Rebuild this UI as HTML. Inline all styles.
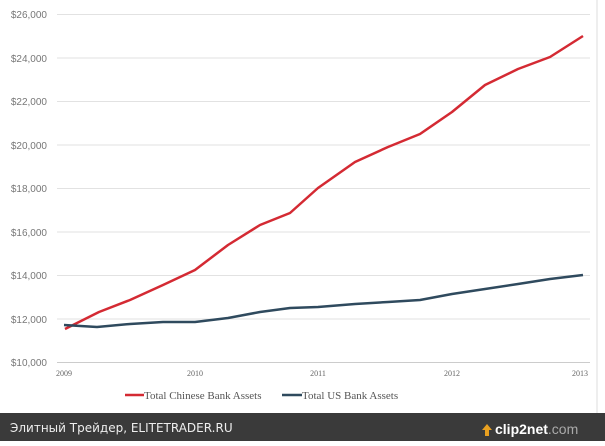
<!DOCTYPE html>
<html><head><meta charset="utf-8"><style>
body{margin:0;width:605px;height:441px;background:#fff;overflow:hidden;font-family:"Liberation Serif",serif}
</style></head><body>
<svg width="605" height="441" viewBox="0 0 605 441" xmlns="http://www.w3.org/2000/svg">
<rect width="605" height="441" fill="#fff"/>
<line x1="597" y1="0" x2="597" y2="413" stroke="#ddd"/>
<g stroke="#e2e2e2" stroke-width="1">
<line x1="57" y1="14.5" x2="590" y2="14.5"/><line x1="57" y1="58" x2="590" y2="58"/>
<line x1="57" y1="101.5" x2="590" y2="101.5"/><line x1="57" y1="145" x2="590" y2="145"/>
<line x1="57" y1="188.5" x2="590" y2="188.5"/><line x1="57" y1="232" x2="590" y2="232"/>
<line x1="57" y1="275.5" x2="590" y2="275.5"/><line x1="57" y1="319" x2="590" y2="319"/>
<line x1="57" y1="362.5" x2="590" y2="362.5" stroke="#ccc"/>
</g>
<g font-family="Liberation Sans, sans-serif" font-size="10" fill="#777" text-anchor="end">
<text x="47" y="18">$26,000</text><text x="47" y="62">$24,000</text><text x="47" y="105">$22,000</text>
<text x="47" y="149">$20,000</text><text x="47" y="192">$18,000</text><text x="47" y="236">$16,000</text>
<text x="47" y="279">$14,000</text><text x="47" y="323">$12,000</text><text x="47" y="366">$10,000</text>
</g>
<g font-size="8" fill="#666" text-anchor="middle">
<text x="64" y="376">2009</text><text x="195" y="376">2010</text><text x="318" y="376">2011</text>
<text x="452" y="376">2012</text><text x="580" y="376">2013</text>
</g>
<polyline fill="none" stroke="#d42a33" stroke-width="2.5" stroke-linejoin="round" points="65,329 99,312 130,300 163,285 195,270 228,245 260,225 290,213 318,188 355,162 388,147 420,134 452,112 485,85 518,69 550,57 583,36"/>
<polyline fill="none" stroke="#2f4a5e" stroke-width="2.5" stroke-linejoin="round" points="64,325 97,327 130,324 163,322 195,322 228,318 260,312 290,308 318,307 355,304 388,302 420,300 452,294 485,289 518,284 550,279 583,275"/>
<line x1="125" y1="395" x2="144" y2="395" stroke="#d42a33" stroke-width="2.5"/>
<text x="144" y="399" font-size="11" fill="#555">Total Chinese Bank Assets</text>
<line x1="282" y1="395" x2="302" y2="395" stroke="#2f4a5e" stroke-width="2.5"/>
<text x="302" y="399" font-size="11" fill="#555">Total US Bank Assets</text>
<rect x="0" y="413" width="605" height="28" fill="#3a3a3a"/>
<text x="10" y="432" font-family="DejaVu Sans, sans-serif" font-size="12" fill="#eee">Элитный Трейдер, ELITETRADER.RU</text>
<polygon points="487,424 482,430 485,430 485,436 489,436 489,430 492,430" fill="#e8a020"/>
<text x="495" y="434" font-family="Liberation Sans, sans-serif" font-size="14" font-weight="bold" fill="#fff">clip2net<tspan fill="#aaa" font-weight="normal">.com</tspan></text>
</svg>
</body></html>
